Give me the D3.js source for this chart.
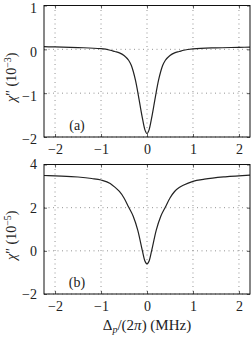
<!DOCTYPE html>
<html>
<head>
<meta charset="utf-8">
<script src="https://cdn.jsdelivr.net/npm/d3@7"></script>
<style>
  body { margin: 0; background: #fff; }
  svg { display: block; }
  text { font-family: "Liberation Serif", "DejaVu Serif", serif; fill: #222; }
</style>
</head>
<body>
<svg width="251" height="338"></svg>
<script>
// detuning (MHz) and chi'' values
var detA = [-2.24, -2.0, -1.5, -1.0, -0.8, -0.7, -0.6, -0.5, -0.4, -0.34, -0.3, -0.25, -0.2, -0.15, -0.1, -0.05, 0,
            0.05, 0.1, 0.15, 0.2, 0.25, 0.3, 0.34, 0.4, 0.5, 0.6, 0.7, 0.8, 1.0, 1.5, 2.0, 2.24];
var chiA = [0.06, 0.055, 0.04, 0.015, -0.02, -0.05, -0.08, -0.14, -0.25, -0.37, -0.5, -0.71, -0.98, -1.28, -1.57, -1.82, -1.92,
            -1.82, -1.57, -1.28, -0.98, -0.71, -0.5, -0.37, -0.25, -0.14, -0.08, -0.05, -0.02, 0.01, 0.035, 0.045, 0.05];

var detB = [-2.24, -2.0, -1.5, -1.2, -1.0, -0.8, -0.7, -0.6, -0.5, -0.4, -0.3, -0.2, -0.1, -0.05, 0,
            0.05, 0.1, 0.2, 0.3, 0.4, 0.5, 0.6, 0.7, 0.8, 1.0, 1.25, 1.7, 2.24];
var chiB = [3.49, 3.47, 3.42, 3.35, 3.28, 3.12, 2.95, 2.75, 2.45, 2.03, 1.6, 0.95, 0.0, -0.45, -0.6,
            -0.45, 0.0, 0.95, 1.6, 2.03, 2.45, 2.75, 2.93, 3.05, 3.22, 3.32, 3.43, 3.51];

var xTicks = [-2, -1, 0, 1, 2];
var yTicksA = [-2, -1, 0, 1];
var yTicksB = [-2, 0, 2, 4];

var svg = d3.select("svg");
var left = 44, right = 250;

var x = d3.scaleLinear().domain([-2.24, 2.24]).range([left, right]);

var panels = [
  {det: detA, chi: chiA, yTicks: yTicksA, dom: [-2, 1], top: 5.5, bottom: 137, exp: "−3", tag: "(a)"},
  {det: detB, chi: chiB, yTicks: yTicksB, dom: [-2, 4], top: 164.5, bottom: 294, exp: "−5", tag: "(b)"}
];

panels.forEach(function(p) {
  var y = d3.scaleLinear().domain(p.dom).range([p.bottom, p.top]);
  var g = svg.append("g");

  // dotted grid
  g.append("g").selectAll("line")
    .data(xTicks)
    .join("line")
      .attr("x1", d => x(d)).attr("x2", d => x(d))
      .attr("y1", p.top).attr("y2", p.bottom)
      .attr("stroke", "#777").attr("stroke-width", 0.8)
      .attr("stroke-dasharray", "1,3.5");
  g.append("g").selectAll("line")
    .data(p.yTicks)
    .join("line")
      .attr("x1", left).attr("x2", right)
      .attr("y1", d => y(d)).attr("y2", d => y(d))
      .attr("stroke", "#777").attr("stroke-width", 0.8)
      .attr("stroke-dasharray", "1,3.5");

  // axes with inward ticks
  var fmt = d => d < 0 ? "−" + Math.abs(d) : d;
  var xb = d3.axisBottom(x).tickValues(xTicks).tickSize(-3).tickPadding(7).tickFormat(fmt);
  var xt = d3.axisTop(x).tickValues(xTicks).tickSize(-3).tickFormat("");
  var yl = d3.axisLeft(y).tickValues(p.yTicks).tickSize(-3).tickPadding(7).tickFormat(fmt);
  var yr = d3.axisRight(y).tickValues(p.yTicks).tickSize(-3).tickFormat("");

  [[xb, "translate(0," + p.bottom + ")"], [xt, "translate(0," + p.top + ")"],
   [yl, "translate(" + left + ",0)"], [yr, "translate(" + right + ",0)"]].forEach(function(a) {
    var ax = g.append("g").attr("transform", a[1]).call(a[0]);
    ax.select(".domain").remove();
    ax.selectAll("line").attr("stroke", "#333").attr("stroke-width", 0.8);
    ax.selectAll("text").attr("font-family", "Liberation Serif, serif")
      .attr("font-size", 14).attr("fill", "#222");
    // keep the topmost label inside the page
    ax.selectAll(".tick text").filter(function() {
      return this.getBBox && (y(p.dom[1]) + this.getBBox().y) < 0;
    }).attr("y", 2.5);
  });

  // curve
  var line = d3.line()
    .x((d, i) => x(p.det[i]))
    .y((d, i) => y(p.chi[i]))
    .curve(d3.curveMonotoneX);
  g.append("path")
    .datum(p.chi)
    .attr("fill", "none")
    .attr("stroke", "#222")
    .attr("stroke-width", 1.2)
    .attr("d", line);

  // frame
  g.append("rect")
    .attr("x", left).attr("y", p.top)
    .attr("width", right - left).attr("height", p.bottom - p.top)
    .attr("fill", "none").attr("stroke", "#111").attr("stroke-width", 1);

  // panel tag
  g.append("text")
    .attr("x", 77).attr("y", p.bottom - 7)
    .attr("text-anchor", "middle")
    .attr("font-size", 14)
    .text(p.tag);

  // y label
  var cy = (p.top + p.bottom) / 2 + 6;
  var yt = g.append("text")
    .attr("transform", "translate(16," + cy + ") rotate(-90)")
    .attr("text-anchor", "middle")
    .attr("font-size", 14);
  yt.append("tspan").attr("font-style", "italic").text("χ");
  yt.append("tspan").text("″ (10");
  yt.append("tspan").attr("font-size", 10).attr("dy", -5).text(p.exp);
  yt.append("tspan").attr("dy", 5).text(")");
});

// x label
var xl = svg.append("text")
  .attr("x", 147).attr("y", 330)
  .attr("text-anchor", "middle")
  .attr("font-size", 15);
xl.append("tspan").text("Δ");
xl.append("tspan").attr("font-style", "italic").attr("font-size", 10).attr("dy", 3).text("p");
xl.append("tspan").attr("dy", -3).text("/(2");
xl.append("tspan").attr("font-style", "italic").text("π");
xl.append("tspan").text(") (MHz)");
</script>
</body>
</html>
